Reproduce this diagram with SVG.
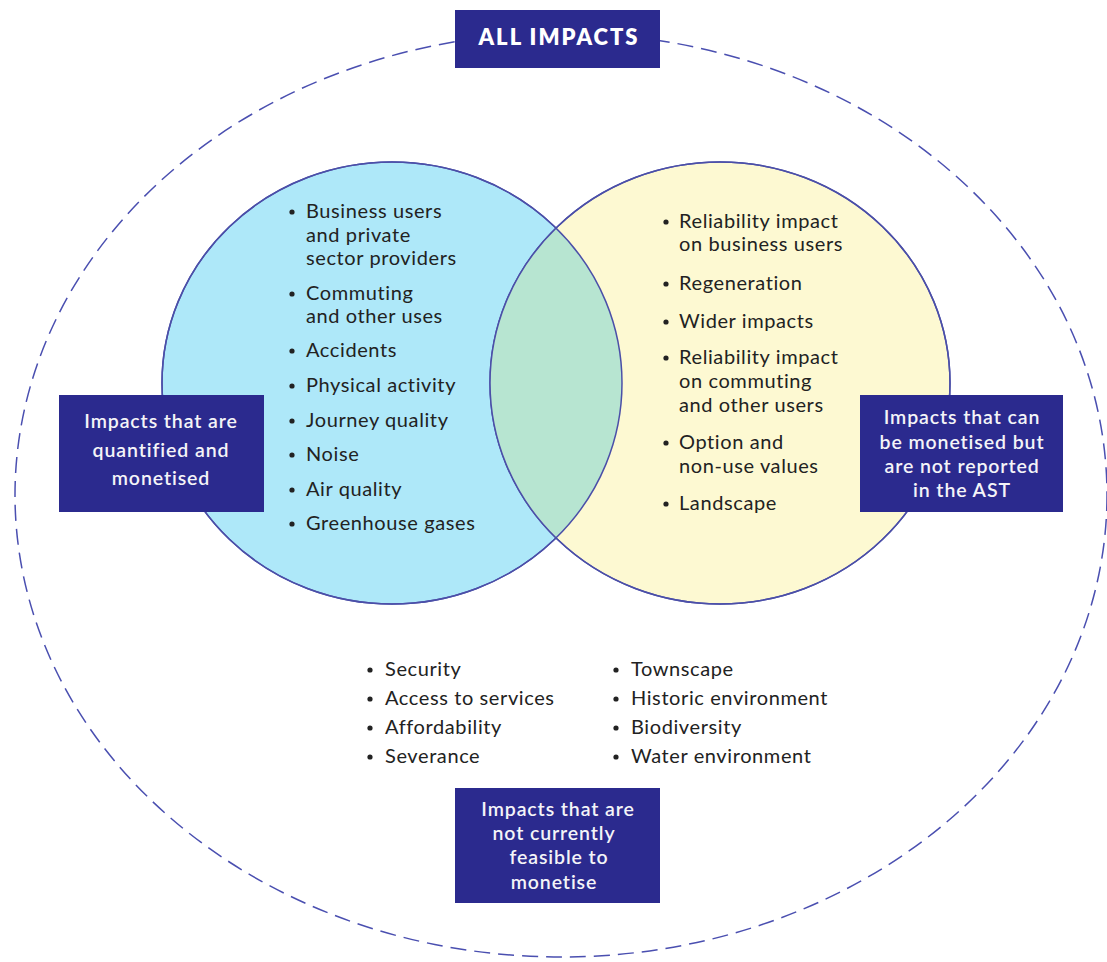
<svg xmlns="http://www.w3.org/2000/svg" width="1107" height="962" viewBox="0 0 1107 962">
<style>
.bg{fill:#ffffff}
.outer{fill:none;stroke:#4a4fb0;stroke-width:1.5;stroke-dasharray:16 8}
.circ{stroke:#4b4fa8;stroke-width:1.5}
.box{fill:#2b2a8e}
.lbl{font-family:Lato,"Open Sans",sans-serif;font-size:19.5px;font-weight:600;fill:#f4f4f8;text-anchor:middle;letter-spacing:0.9px}
.ttl{font-family:Lato,"Open Sans",sans-serif;font-size:22px;font-weight:800;fill:#ffffff;text-anchor:middle;letter-spacing:2px}
.it{font-family:Lato,"Open Sans",sans-serif;font-size:20px;fill:#222222;letter-spacing:0.6px}
.bul{fill:#222222}
</style>
<defs>
<clipPath id="clipL"><ellipse cx="392" cy="383" rx="230" ry="221"/></clipPath>
</defs>
<rect class="bg" x="0" y="0" width="1107" height="962"/>
<g id="all-impacts-set">
<ellipse class="outer" cx="561" cy="495" rx="546" ry="462"/>
</g>
<g id="venn">
<ellipse id="left-circle" class="circ" cx="392" cy="383" rx="230" ry="221" fill="#aee8f9"/>
<ellipse id="right-circle" class="circ" cx="720" cy="383" rx="230" ry="221" fill="#fdf9d2"/>
<ellipse clip-path="url(#clipL)" cx="720" cy="383" rx="230" ry="221" fill="#b7e5d1"/>
<ellipse fill="none" class="circ" cx="392" cy="383" rx="230" ry="221"/>
<ellipse fill="none" class="circ" cx="720" cy="383" rx="230" ry="221"/>
</g>
<g id="left-items">
<g class="bul">
<circle cx="292" cy="212" r="2.6"/><circle cx="292" cy="294" r="2.6"/><circle cx="292" cy="351" r="2.6"/><circle cx="292" cy="386" r="2.6"/><circle cx="292" cy="421" r="2.6"/><circle cx="292" cy="455" r="2.6"/><circle cx="292" cy="490" r="2.6"/><circle cx="292" cy="524" r="2.6"/>
</g>
<text class="it" x="306" y="218">Business users</text>
<text class="it" x="306" y="242">and private</text>
<text class="it" x="306" y="265">sector providers</text>
<text class="it" x="306" y="300">Commuting</text>
<text class="it" x="306" y="323">and other uses</text>
<text class="it" x="306" y="357">Accidents</text>
<text class="it" x="306" y="392">Physical activity</text>
<text class="it" x="306" y="427">Journey quality</text>
<text class="it" x="306" y="461">Noise</text>
<text class="it" x="306" y="496">Air quality</text>
<text class="it" x="306" y="530">Greenhouse gases</text>
</g>
<g id="right-items">
<g class="bul">
<circle cx="666" cy="222" r="2.6"/><circle cx="666" cy="284" r="2.6"/><circle cx="666" cy="322" r="2.6"/><circle cx="666" cy="358" r="2.6"/><circle cx="666" cy="443" r="2.6"/><circle cx="666" cy="504" r="2.6"/>
</g>
<text class="it" x="679" y="228">Reliability impact</text>
<text class="it" x="679" y="251">on business users</text>
<text class="it" x="679" y="290">Regeneration</text>
<text class="it" x="679" y="328">Wider impacts</text>
<text class="it" x="679" y="364">Reliability impact</text>
<text class="it" x="679" y="388">on commuting</text>
<text class="it" x="679" y="412">and other users</text>
<text class="it" x="679" y="449">Option and</text>
<text class="it" x="679" y="473">non-use values</text>
<text class="it" x="679" y="510">Landscape</text>
</g>
<g id="outer-items">
<g class="bul">
<circle cx="370" cy="670" r="2.6"/><circle cx="370" cy="699" r="2.6"/><circle cx="370" cy="728" r="2.6"/><circle cx="370" cy="757" r="2.6"/>
<circle cx="616" cy="670" r="2.6"/><circle cx="616" cy="699" r="2.6"/><circle cx="616" cy="728" r="2.6"/><circle cx="616" cy="757" r="2.6"/>
</g>
<text class="it" x="385" y="676">Security</text>
<text class="it" x="385" y="705">Access to services</text>
<text class="it" x="385" y="734">Affordability</text>
<text class="it" x="385" y="763">Severance</text>
<text class="it" x="631" y="676">Townscape</text>
<text class="it" x="631" y="705">Historic environment</text>
<text class="it" x="631" y="734">Biodiversity</text>
<text class="it" x="631" y="763">Water environment</text>
</g>
<g id="box-all">
<rect class="box" x="455" y="10" width="205" height="58"/>
<text class="ttl" x="559" y="45">ALL IMPACTS</text>
</g>
<g id="box-left">
<rect class="box" x="59" y="395" width="205" height="117"/>
<text class="lbl" x="161" y="428">Impacts that are</text>
<text class="lbl" x="161" y="457">quantified and</text>
<text class="lbl" x="161" y="485">monetised</text>
</g>
<g id="box-right">
<rect class="box" x="860" y="395" width="203" height="117"/>
<text class="lbl" x="962" y="424">Impacts that can</text>
<text class="lbl" x="962" y="449">be monetised but</text>
<text class="lbl" x="962" y="473">are not reported</text>
<text class="lbl" x="962" y="497">in the AST</text>
</g>
<g id="box-bottom">
<rect class="box" x="455" y="788" width="205" height="115"/>
<text class="lbl" x="558" y="816">Impacts that are</text>
<text class="lbl" x="554" y="840">not currently</text>
<text class="lbl" x="559" y="864">feasible to</text>
<text class="lbl" x="554" y="889">monetise</text>
</g>
</svg>
